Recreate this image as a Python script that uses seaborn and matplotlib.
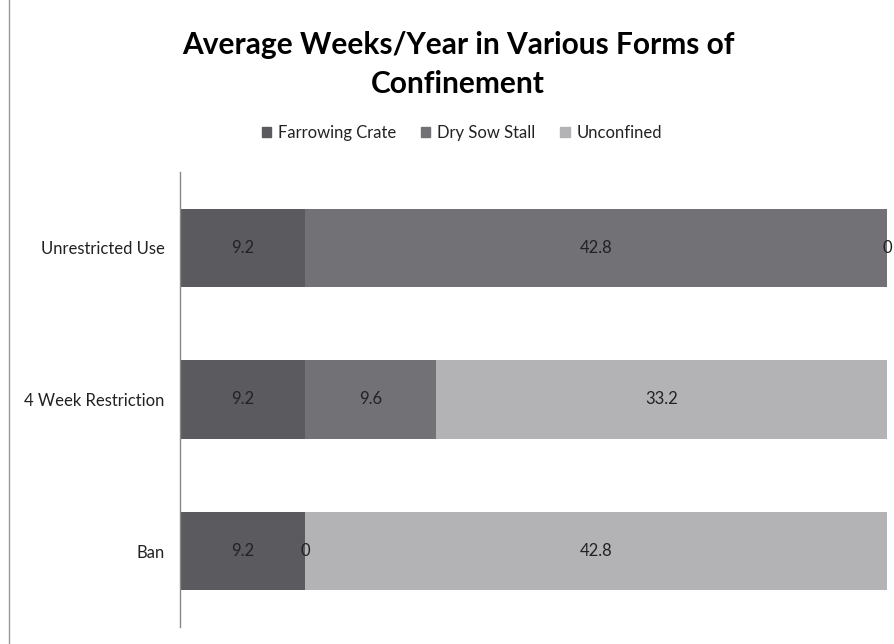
import numpy as np
import matplotlib.pyplot as plt
import seaborn as sns
from matplotlib.patches import Rectangle

# data
policies = ['Unrestricted Use', '4 Week Restriction', 'Ban']
farrowing_crate = [9.2, 9.2, 9.2]
dry_sow_stall = [42.8, 9.6, 0]
unconfined = [0, 33.2, 42.8]
series_names = ['Farrowing Crate', 'Dry Sow Stall', 'Unconfined']
colors = ['#5b5a5f', '#727176', '#b3b3b5']

sns.set_theme(style='white')
plt.rcParams['font.family'] = ['Lato', 'DejaVu Sans']

fig = plt.figure(figsize=(8.95, 6.44), dpi=100)
ax = fig.add_axes([180/895, 1-627/644, 707/895, 455/644])

# stacked bars
left = np.zeros(len(policies))
for name, vals, c in zip(series_names, [farrowing_crate, dry_sow_stall, unconfined], colors):
    bars = ax.barh(policies, vals, left=left, height=0.515, color=c, label=name, linewidth=0)
    ax.bar_label(bars, labels=['{:g}'.format(v) for v in vals],
                 label_type='center', fontsize=12, color='#222222')
    left += np.array(vals)

ax.set_xlim(0, 52)
ax.set_ylim(2.5, -0.5)

ax.set_xticks([])
ax.tick_params(axis='y', length=0, pad=11, labelsize=12, labelcolor='#222222')
for s in ['top', 'right', 'bottom']:
    ax.spines[s].set_visible(False)
ax.spines['left'].set_color('#888888')
ax.spines['left'].set_linewidth(1)

# title and legend
fig.text(458/895, 1-45/644, 'Average Weeks/Year in Various Forms of', ha='center', va='center',
         fontsize=21.5, fontweight='bold', color='black')
fig.text(458/895, 1-84/644, 'Confinement', ha='center', va='center',
         fontsize=21.5, fontweight='bold', color='black')
handles = [Rectangle((0, 0), 1, 1, color=c) for c in colors]
fig.legend(handles, series_names, loc='center', bbox_to_anchor=(462/895, 1-133/644), ncol=3,
           frameon=False, fontsize=12, handlelength=0.55, handleheight=0.55, handletextpad=0.4,
           columnspacing=1.5, labelcolor='#222222')

# chart area border
fig.add_artist(Rectangle((9/895, -0.01), 1.0, 1.02, transform=fig.transFigure,
                         fill=False, edgecolor='#999999', linewidth=1))

plt.savefig('out.png', dpi=100)
